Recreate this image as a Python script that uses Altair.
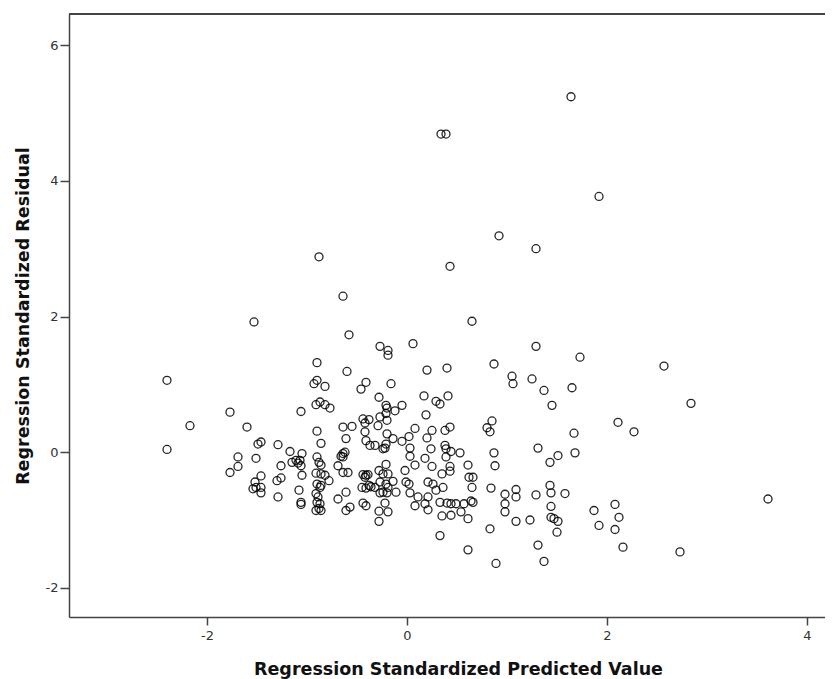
import altair as alt
import pandas as pd

pred = [
    1.64, 0.34, 0.39, 1.92, 0.92, 1.29, -0.88, 0.43, -0.64, -1.53, 0.65,
    -2.40, -2.17, -2.40, -1.77, -1.60, -1.06, -0.90, -0.60, -0.93, -0.90, -0.82,
    -0.91, -0.87, -0.82, -0.77, -0.46, -0.41, -0.16, -0.28, -0.21, -0.20, -0.12,
    -0.05, -0.27, -0.19, -0.19, -0.58, 0.06, -0.44, -0.42, -0.38, -0.29, -0.27,
    -0.21, -0.20, -0.64, -0.55, -0.90, -0.86, -0.61, -0.42, -0.41, -0.37, -0.32,
    -0.20, -0.14, -0.21, -0.24, -0.22, -0.05, 0.02, 0.08, 0.03, 0.03, 0.08,
    -1.49, -1.46, -1.29, -1.17, -1.05, -1.69, -1.69, -1.77, -1.51, -1.46, -1.52,
    -1.51, -1.46, -1.54, -1.46, -1.29, -1.26, -1.26, -1.30, -1.15, -1.11, -1.09,
    -1.06, -1.07, -1.05, -1.08, -1.06, -1.06, -0.90, -0.88, -0.86, -0.86, -0.91,
    -0.82, -0.78, -0.90, -0.87, -0.86, -0.91, -0.89, -0.90, -0.87, -0.91, -0.86,
    -0.88, -0.64, -0.62, -0.64, -0.66, -0.69, -0.64, -0.59, -0.61, -0.69, -0.61,
    -0.57, -0.44, -0.41, -0.39, -0.42, -0.45, -0.41, -0.38, -0.36, -0.32, -0.44,
    -0.41, -0.28, -0.24, -0.19, -0.21, -0.27, -0.21, -0.19, -0.24, -0.20, -0.14,
    -0.11, -0.27, -0.22, -0.28, -0.19, -0.28, -0.02, -0.01, 0.02, 0.03, 0.08,
    1.29, 1.73, 2.57, 2.84, 0.20, 0.40, 0.87, 1.05, 1.06, 1.25, 1.37, 1.65, 1.45,
    0.17, 0.29, 0.33, 0.41, 0.19, 0.25, 0.38, 0.43, 0.85, 0.80, 0.83, 2.11, 2.27,
    1.67, 1.68, 1.31, 1.43, 1.51, 0.20, 0.24, 0.38, 0.39, 0.44, 0.53, 0.18, 0.25,
    0.39, 0.43, 0.43, 0.35, 0.61, 0.62, 0.66, 0.65, 0.87, 0.88, 0.84, 0.21, 0.26,
    0.36, 0.29, 0.21, 0.11, 0.18, 0.21, 0.33, 0.40, 0.44, 0.49, 0.57, 0.64, 0.66,
    0.35, 0.44, 0.54, 0.61, 0.33, 0.61, 0.89, 0.83, 0.98, 0.98, 0.98, 1.09, 1.09,
    1.09, 1.23, 1.29, 1.43, 1.44, 1.44, 1.44, 1.47, 1.51, 1.50, 1.58, 1.31, 1.37,
    1.87, 1.92, 2.08, 2.12, 2.08, 2.16, 2.73, 3.61,
]

resid = [
    5.24, 4.69, 4.69, 3.77, 3.19, 3.00, 2.88, 2.74, 2.30, 1.92, 1.93,
    1.06, 0.39, 0.04, 0.59, 0.37, 0.60, 1.32, 1.19, 1.01, 1.06, 0.97,
    0.70, 0.74, 0.70, 0.65, 0.93, 1.03, 1.01, 0.81, 0.69, 0.65, 0.61,
    0.69, 1.56, 1.50, 1.43, 1.73, 1.60, 0.49, 0.43, 0.48, 0.39, 0.52,
    0.57, 0.47, 0.37, 0.38, 0.31, 0.13, 0.20, 0.30, 0.17, 0.10, 0.10,
    0.27, 0.20, 0.12, 0.05, 0.06, 0.16, 0.23, 0.35, 0.06, -0.06, -0.19,
    0.12, 0.15, 0.11, 0.01, -0.02, -0.07, -0.21, -0.30, -0.09, -0.35, -0.44,
    -0.52, -0.52, -0.54, -0.60, -0.66, -0.20, -0.38, -0.42, -0.15, -0.12, -0.16,
    -0.20, -0.12, -0.34, -0.56, -0.74, -0.77, -0.07, -0.15, -0.19, -0.32, -0.31,
    -0.34, -0.42, -0.47, -0.52, -0.49, -0.61, -0.66, -0.74, -0.76, -0.86, -0.86,
    -0.83, -0.02, 0.00, -0.07, -0.06, -0.20, -0.30, -0.30, -0.59, -0.69, -0.86,
    -0.81, -0.33, -0.34, -0.33, -0.37, -0.52, -0.53, -0.49, -0.51, -0.52, -0.75,
    -0.79, -0.27, -0.32, -0.32, -0.18, -0.44, -0.47, -0.52, -0.59, -0.60, -0.43,
    -0.59, -0.60, -0.75, -0.87, -0.88, -1.02, -0.27, -0.44, -0.47, -0.60, -0.79,
    1.56, 1.40, 1.27, 0.72, 1.21, 1.24, 1.30, 1.12, 1.01, 1.08, 0.91, 0.95, 0.69,
    0.83, 0.75, 0.71, 0.83, 0.55, 0.32, 0.32, 0.37, 0.46, 0.36, 0.30, 0.44, 0.30,
    0.28, -0.01, 0.06, -0.15, -0.05, 0.21, 0.05, 0.10, 0.05, 0.01, -0.01, -0.09, -0.21,
    -0.07, -0.21, -0.28, -0.32, -0.19, -0.37, -0.37, -0.52, -0.01, -0.20, -0.53, -0.44, -0.47,
    -0.52, -0.56, -0.66, -0.66, -0.76, -0.85, -0.74, -0.75, -0.76, -0.76, -0.76, -0.72, -0.74,
    -0.94, -0.93, -0.88, -0.98, -1.23, -1.44, -1.64, -1.13, -0.62, -0.76, -0.88, -0.55, -0.66,
    -1.02, -1.00, -0.63, -0.49, -0.60, -0.80, -0.96, -0.98, -1.02, -1.18, -0.61, -1.37, -1.61,
    -0.86, -1.08, -0.77, -0.96, -1.14, -1.40, -1.47, -0.69,
]

x_ticks = [-2, 0, 2, 4]
y_ticks = [-2, 0, 2, 4, 6]

n = min(len(pred), len(resid))
df = pd.DataFrame({"pred": pred[:n], "resid": resid[:n]})

font = "DejaVu Sans"
W, H = 756, 603

points = alt.Chart(df).mark_point(
    shape="circle", filled=False, color="black", size=64, strokeWidth=1.3, opacity=0.85
).encode(
    x=alt.X(
        "pred:Q",
        scale=alt.Scale(domain=[-3.38, 4.18], nice=False, zero=False),
        axis=alt.Axis(
            values=x_ticks, title="Regression Standardized Predicted Value",
            grid=False, tickSize=8, labelPadding=4, titlePadding=18,
            titleX=389, labelExpr="'' + datum.value",
        ),
    ),
    y=alt.Y(
        "resid:Q",
        scale=alt.Scale(domain=[-2.43, 6.46], nice=False, zero=False),
        axis=alt.Axis(
            values=y_ticks, title="Regression Standardized Residual",
            grid=False, tickSize=9, labelPadding=2, titlePadding=13,
            labelExpr="'' + datum.value",
        ),
    ),
)

top_line = alt.Chart(df).mark_rule(color="#444", strokeWidth=1.5).encode(
    x=alt.value(0), x2=alt.value(W), y=alt.value(0)
)

chart = alt.layer(points, top_line).properties(
    width=W, height=H,
    padding={"left": 61, "top": 6, "right": 0, "bottom": 62},
    autosize="none",
).configure_view(
    strokeWidth=0
).configure_axis(
    domainColor="#444", domainWidth=1.5, tickColor="#444", tickWidth=1.5,
    labelFont=font, labelFontSize=13, labelColor="#333",
    titleFont=font, titleFontSize=17.5, titleFontWeight="bold", titleColor="#111",
)

chart.save("out.html", embed_options={"renderer": "svg", "actions": False})
